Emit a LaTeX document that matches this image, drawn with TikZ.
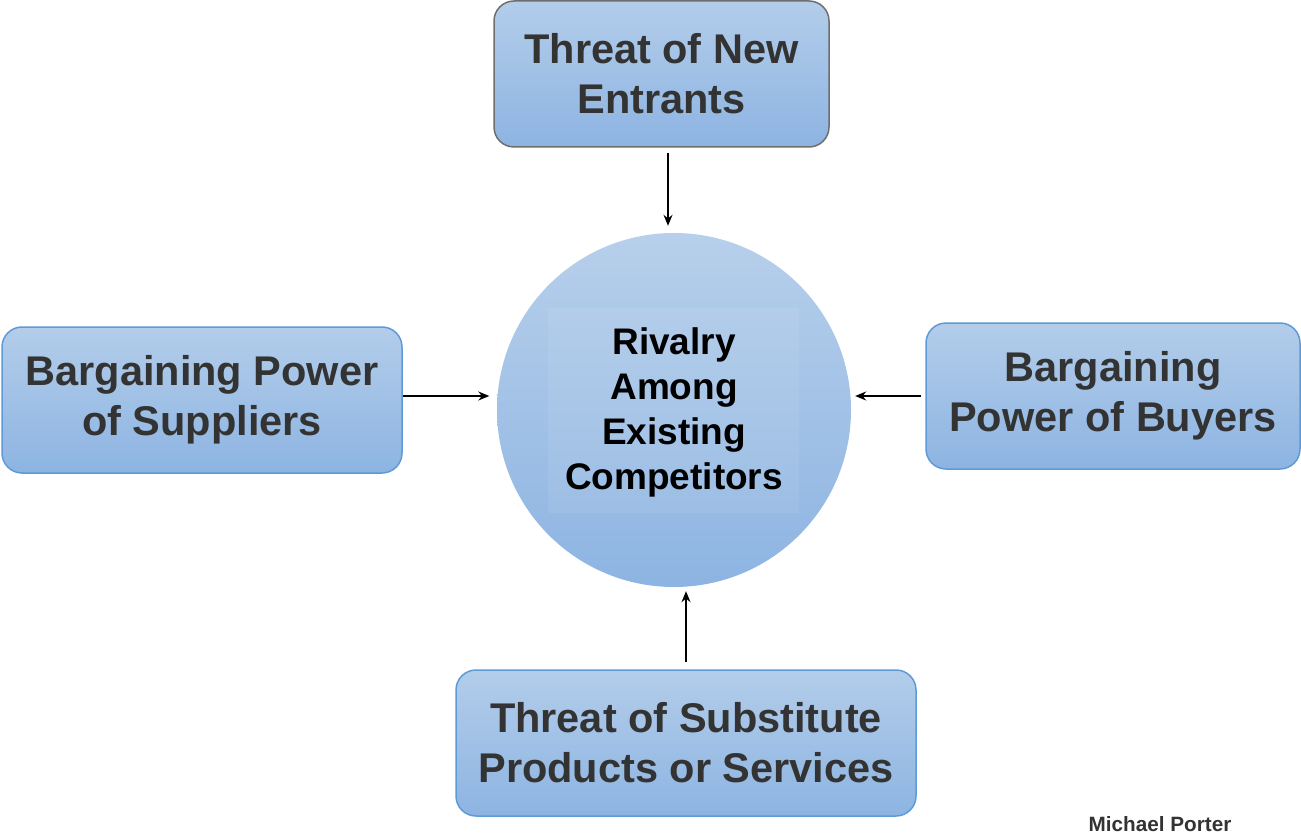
\documentclass[tikz,border=0pt]{standalone}
\usepackage{fontspec}
\setmainfont{Liberation Sans}
\usetikzlibrary{arrows.meta}
\definecolor{ftop}{HTML}{B3CDEA}
\definecolor{fbot}{HTML}{8DB4E2}
\definecolor{bblue}{HTML}{5E9BD6}
\definecolor{bgray}{HTML}{6E6E6E}
\definecolor{txt}{HTML}{333333}
\tikzset{
  forcebox/.style={rectangle, rounded corners=20pt, top color=ftop, bottom color=fbot,
    draw=bblue, line width=1.5pt, align=center, text=txt,
    font=\fontsize{41.5}{50}\selectfont\bfseries, minimum height=146pt, inner sep=0pt},
  hub/.style={circle, top color=ftop!95!white, bottom color=fbot, draw=none,
    minimum size=354pt, inner sep=0pt, align=center, text=black},
  arr/.style={-{Stealth[length=11pt,width=9pt]}, line width=1.5pt, black},
  faint/.style={fill=white, fill opacity=0.07, draw=none}
}
\begin{document}
\begin{tikzpicture}[x=1pt,y=-1pt]
\useasboundingbox (0,0) rectangle (1301,837);
% hub
\node[hub] (c) at (674,410) {};
\fill[faint] (548,308) rectangle (799,513);
\node[align=center, font=\fontsize{37}{45}\selectfont\bfseries] (ct) at (674,412) {Rivalry\\Among\\Existing\\Competitors};
% boxes
\node[forcebox, draw=bgray, minimum width=335pt] (top) at (661.5,74) {Threat of New\\Entrants};
\node[forcebox, minimum width=400pt] (left) at (202,400) {Bargaining Power\\of Suppliers};
\node[forcebox, minimum width=374pt] (right) at (1113,396) {Bargaining\\Power of Buyers};
\node[forcebox, minimum width=460pt] (bot) at (686,743) {Threat of Substitute\\Products or Services};
% arrows
\draw[arr] ([xshift=6.5pt,yshift=-5pt]top.south) -- ([xshift=-6pt,yshift=7pt]c.north);
\draw[arr] ([yshift=4pt]left.east) -- ([xshift=-7.5pt,yshift=14pt]c.west);
\draw[arr] ([xshift=-4pt]right.west) -- ([xshift=4pt,yshift=14pt]c.east);
\draw[arr] ([yshift=7pt]bot.north) -- ([xshift=12pt,yshift=-4pt]c.south);
% author
\node[font=\fontsize{20.7}{24}\selectfont\bfseries, text=txt] (auth) at (1160,824) {Michael Porter};
\end{tikzpicture}
\end{document}
